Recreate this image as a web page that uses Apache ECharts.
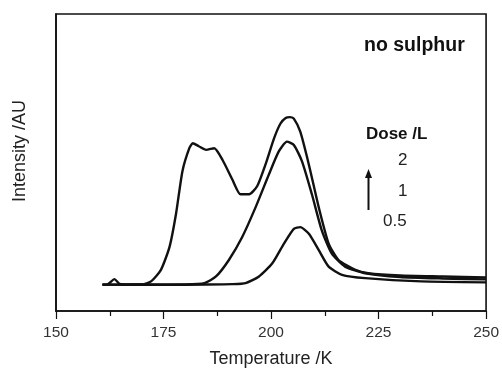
<!DOCTYPE html>
<html><head><meta charset="utf-8">
<script src="https://cdn.jsdelivr.net/npm/echarts@6/dist/echarts.min.js"></script>
<style>html,body{margin:0;padding:0;background:#fff}#c{width:502px;height:373px}</style>
</head><body><div id="c"></div>
<script>
// Temperature (K) and intensity (arbitrary units)
const dose2T = [160.8,162,163.6,164.8,167,170,172.1,174.4,176.4,177.9,179.4,181,181.8,183.2,184.9,186.8,188.7,191,192.9,194.9,196.8,198.7,200.7,202.2,203.4,204.4,205.3,206.8,208.8,211.1,213.4,215.7,219.6,222.6,230,240,250];
const dose2I = [26.7,27,32.3,27.5,27,27,30,41.7,65,98.3,141.7,165,170,167,163.3,165,153.3,133.3,118.3,118.3,126.7,148.3,175,190,195.7,196.5,195,181.7,148.3,105,68.3,51.7,41.7,38.3,36,35,34];
const dose1T = [160.8,170,180,184.5,187.2,190.2,193.3,196.4,199.5,201.8,203.7,205.3,207.2,209.5,211.8,214.1,217.2,221.9,230,240,250];
const dose1I = [26.7,26.8,27,28.3,35,51.7,75,105,138.3,161.7,171.7,168.3,151.7,118.3,81.7,58.3,45,38.3,34.5,33,32];
const dose05T = [160.8,175,185,191,194.1,197.2,200.3,203,205.3,206.8,208.8,211.1,213.4,216.5,221.9,235,250];
const dose05I = [26.7,26.5,26.8,27.2,28.3,35,48.3,68.3,83.3,85,78.3,61.7,45,36.7,33.3,30,29];
const xTicks = [150,175,200,225,250];
const doseLabels = ['2','1','0.5'];

const FF = '"Liberation Sans", Arial, sans-serif';
const zip = (a,b) => a.map((v,i)=>[v,b[i]]);
const chart = echarts.init(document.getElementById('c'), null, {renderer:'canvas'});
const lineStyle = {color:'#111', width:2.4};
const mk = (name,data) => ({name, type:'line', data, showSymbol:false, smooth:0.2, lineStyle, z:3, animation:false});
chart.setOption({
  animation:false,
  grid:{left:56, right:14, top:14, bottom:58, show:true, borderColor:'#111', borderWidth:1.6, backgroundColor:'transparent'},
  xAxis:{type:'value', min:xTicks[0], max:xTicks[xTicks.length-1], interval:25,
    axisLine:{show:true, lineStyle:{color:'#111', width:1.6}},
    axisTick:{show:true, inside:false, length:8, lineStyle:{color:'#111', width:1.2}},
    minorTick:{show:true, splitNumber:2, length:5, lineStyle:{color:'#111', width:1.2}},
    splitLine:{show:false},
    axisLabel:{margin:14, color:'#333', fontSize:15.5, fontFamily:FF},
    name:'Temperature /K', nameLocation:'middle', nameGap:39,
    nameTextStyle:{color:'#222', fontSize:18, fontFamily:FF}
  },
  yAxis:{type:'value', min:0, max:301,
    axisLine:{show:true, lineStyle:{color:'#111', width:1.6}},
    axisTick:{show:false}, axisLabel:{show:false}, splitLine:{show:false}
  },
  series:[mk('0.5', zip(dose05T,dose05I)), mk('1', zip(dose1T,dose1I)), mk('2', zip(dose2T,dose2I))],
  graphic:[
    {type:'text', x:20, y:151, rotation:Math.PI/2, style:{text:'Intensity /AU', fill:'#222', font:'18px '+FF, align:'center', verticalAlign:'middle'}},
    {type:'text', left:364, top:36, style:{text:'no sulphur', fill:'#111', font:'bold 19.5px '+FF}},
    {type:'text', left:366, top:126, style:{text:'Dose /L', fill:'#111', font:'bold 17px '+FF}},
    {type:'text', left:398, top:152, style:{text:doseLabels[0], fill:'#222', font:'17px '+FF}},
    {type:'text', left:398, top:183, style:{text:doseLabels[1], fill:'#222', font:'17px '+FF}},
    {type:'text', left:383, top:213, style:{text:doseLabels[2], fill:'#222', font:'17px '+FF}},
    {type:'line', shape:{x1:368.5, y1:177, x2:368.5, y2:210}, style:{stroke:'#111', lineWidth:2}},
    {type:'polygon', shape:{points:[[368.5,169],[365,178],[372,178]]}, style:{fill:'#111'}}
  ]
});
</script></body></html>
